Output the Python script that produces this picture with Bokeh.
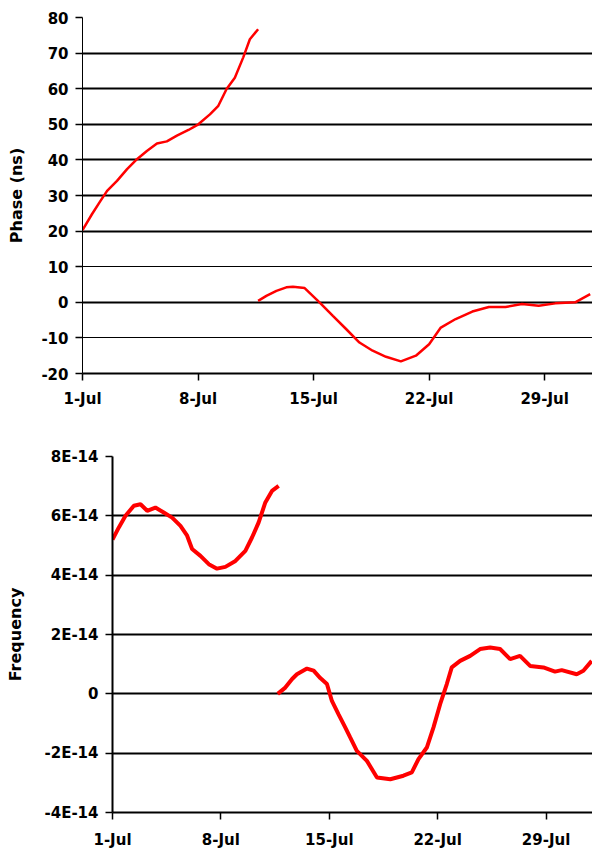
from bokeh.plotting import figure
from bokeh.models import FixedTicker, Range1d, Grid
from bokeh.embed import file_html
from bokeh.resources import INLINE

# ---- data (x = days since 1-Jul) ----
x_tick_days = [0, 7, 14, 21, 28]
x_tick_labels = ["1-Jul", "8-Jul", "15-Jul", "22-Jul", "29-Jul"]

phase_a_day = [0.0, 0.58, 1.09, 1.49, 2.09, 2.70, 3.30, 3.90, 4.51, 5.11, 5.72, 6.42,
               7.02, 7.72, 8.23, 8.73, 9.23, 9.74, 10.14, 10.64]
phase_a_ns = [20.3, 24.8, 28.5, 31.3, 34.1, 37.4, 40.2, 42.5, 44.6, 45.2, 46.8, 48.4,
              50.0, 52.8, 55.2, 59.9, 63.1, 68.8, 73.9, 76.7]

phase_b_day = [10.64, 11.14, 11.75, 12.35, 12.75, 13.46, 14.36, 15.17, 15.97, 16.78,
               17.58, 18.39, 19.29, 20.20, 21.00, 21.71, 22.61, 23.62, 24.62, 25.63,
               26.63, 27.64, 28.65, 29.85, 30.76]
phase_b_ns = [0.4, 1.8, 3.2, 4.2, 4.4, 4.0, 0.0, -3.8, -7.5, -11.3,
              -13.6, -15.3, -16.6, -15.0, -11.8, -7.1, -4.7, -2.6, -1.3, -1.3,
              -0.5, -1.0, -0.3, 0.0, 2.3]

# frequency values in units of 1E-14
freq_a_day = [0.0, 0.41, 0.84, 1.38, 1.81, 2.24, 2.77, 3.31, 3.85, 4.39, 4.82, 5.14,
              5.68, 6.22, 6.75, 7.29, 7.94, 8.58, 9.01, 9.44, 9.87, 10.30, 10.73]
freq_a_e14 = [5.2, 5.61, 6.0, 6.34, 6.39, 6.17, 6.28, 6.11, 5.94, 5.66, 5.33, 4.88,
              4.65, 4.37, 4.22, 4.28, 4.48, 4.82, 5.27, 5.78, 6.45, 6.84, 7.01]

freq_b_day = [10.67, 11.16, 11.60, 11.91, 12.56, 12.99, 13.42, 13.85, 14.17, 14.60,
              15.03, 15.35, 15.78, 16.43, 17.08, 17.94, 18.79, 19.33, 19.76, 20.30,
              20.73, 21.16, 21.59, 21.91, 22.45, 23.10, 23.74, 24.39, 25.03, 25.68,
              26.32, 26.97, 27.83, 28.58, 29.01, 29.98, 30.41, 30.95]
freq_b_e14 = [0.0, 0.21, 0.5, 0.66, 0.85, 0.78, 0.53, 0.33, -0.24, -0.69,
              -1.13, -1.47, -1.92, -2.26, -2.82, -2.88, -2.76, -2.65, -2.20, -1.81,
              -1.13, -0.35, 0.33, 0.89, 1.11, 1.28, 1.51, 1.56, 1.51, 1.17,
              1.28, 0.94, 0.89, 0.75, 0.80, 0.66, 0.78, 1.11]

phase_ticks = [-20, -10, 0, 10, 20, 30, 40, 50, 60, 70, 80]
phase_tick_labels = ["-20", "-10", "0", "10", "20", "30", "40", "50", "60", "70", "80"]
phase_ticks_thick = [-20, 0, 20, 30, 40, 50, 60, 70, 80]
phase_ticks_thin = [-10, 10]
freq_ticks = [-4, -2, 0, 2, 4, 6, 8]
freq_tick_labels = ["-4E-14", "-2E-14", "0", "2E-14", "4E-14", "6E-14", "8E-14"]

FONT = "DejaVu Sans"
RED = "#ff0000"


def style(p, axis_w, label, title_standoff, label_standoff_x):
    p.outline_line_color = None
    p.background_fill_color = "white"
    p.border_fill_color = "white"
    p.xgrid.visible = False
    p.ygrid.visible = False
    xa = p.xaxis[0]
    ya = p.yaxis[0]
    xa.ticker = FixedTicker(ticks=x_tick_days)
    xa.major_label_overrides = {d: l for d, l in zip(x_tick_days, x_tick_labels)}
    for a in (xa, ya):
        a.major_label_text_font = FONT
        a.major_label_text_font_style = "bold"
        a.major_label_text_font_size = "15px"
        a.major_label_text_color = "black"
        a.major_tick_in = 0
        a.major_tick_out = 7
        a.minor_tick_in = 0
        a.minor_tick_out = 0
        a.major_tick_line_color = "black"
        a.axis_line_color = "black"
    xa.axis_line_width = 2
    xa.major_tick_line_width = 1.5
    ya.axis_line_width = axis_w
    ya.major_tick_line_width = 1.5
    ya.major_label_standoff = 7
    xa.major_label_standoff = label_standoff_x
    ya.axis_label = label
    ya.axis_label_text_font = FONT
    ya.axis_label_text_font_style = "bold"
    ya.axis_label_text_font_size = "16px"
    ya.axis_label_text_color = "black"
    ya.axis_label_standoff = title_standoff


# ---- top: phase ----
p1 = figure(width=592, height=440, output_backend="svg", toolbar_location=None,
            x_range=Range1d(0, 30.9), y_range=Range1d(-20, 80),
            min_border_left=82, min_border_right=0, min_border_top=17, min_border_bottom=67)
style(p1, 1, "Phase (ns)", 12, 9)
p1.yaxis[0].ticker = FixedTicker(ticks=phase_ticks)
p1.yaxis[0].major_label_overrides = {t: l for t, l in zip(phase_ticks, phase_tick_labels)}
p1.add_layout(Grid(dimension=1, ticker=FixedTicker(ticks=phase_ticks_thick),
                   grid_line_color="black", grid_line_width=2))
p1.add_layout(Grid(dimension=1, ticker=FixedTicker(ticks=phase_ticks_thin),
                   grid_line_color="black", grid_line_width=1))
p1.line(phase_a_day, phase_a_ns, line_color=RED, line_width=2.5)
p1.line(phase_b_day, phase_b_ns, line_color=RED, line_width=2.5)

# ---- bottom: frequency ----
p2 = figure(width=592, height=411, output_backend="svg", toolbar_location=None,
            x_range=Range1d(0, 31.0), y_range=Range1d(-4, 8),
            min_border_left=112, min_border_right=0, min_border_top=16, min_border_bottom=39)
style(p2, 2, "Frequency", 16, 11)
p2.yaxis[0].ticker = FixedTicker(ticks=freq_ticks)
p2.yaxis[0].major_label_overrides = {t: l for t, l in zip(freq_ticks, freq_tick_labels)}
p2.add_layout(Grid(dimension=1, ticker=FixedTicker(ticks=freq_ticks),
                   grid_line_color="black", grid_line_width=2))
p2.line(freq_a_day, freq_a_e14, line_color=RED, line_width=4)
p2.line(freq_b_day, freq_b_e14, line_color=RED, line_width=4)

open("out.html", "w").write(file_html([p1, p2], INLINE))
